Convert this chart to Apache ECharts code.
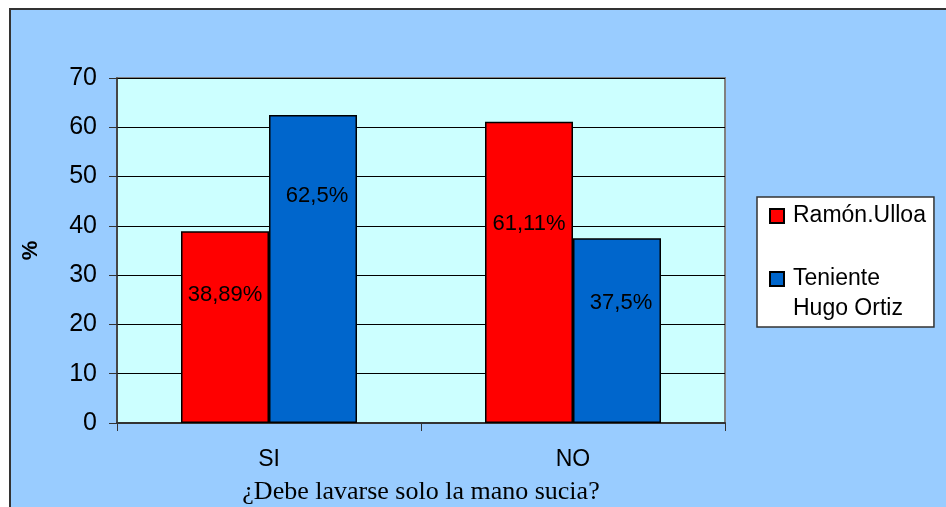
<!DOCTYPE html>
<html>
<head>
<meta charset="utf-8">
<script src="https://cdn.jsdelivr.net/npm/echarts@6/dist/echarts.min.js"></script>
<style>
  html, body { margin: 0; padding: 0; background: #fff; }
  #frame {
    position: absolute; left: 9px; top: 8px; right: 0; bottom: 0;
    background: #99ccff;
    border-left: 2px solid #333; border-top: 2px solid #333;
  }
  #chart { position: absolute; left: 0; top: 0; width: 946px; height: 507px; }
</style>
</head>
<body>
<div id="frame"></div>
<div id="chart"></div>
<script>
// categorias y valores (%)
var categories = ["SI", "NO"];
var seriesNames = ["Ramón.Ulloa", "Teniente\nHugo Ortiz"];
var ramonValues = [38.89, 61.11];
var tenienteValues = [62.5, 37.5];
var yTicks = { min: 0, max: 70, interval: 10 };

// posicion de las etiquetas (solo estilo)
var ramonLabelOffsets = [[0, -32], [0, -48]];
var tenienteLabelOffsets = [[4, -73], [4, -28]];

var sans = "Liberation Sans, Arial, sans-serif";

function pct(v) {
  return String(v).replace(".", ",") + "%";
}

function buildData(values, offsets) {
  return values.map(function (v, i) {
    return { value: v, label: { offset: offsets[i] } };
  });
}

var chart = echarts.init(document.getElementById("chart"), null, { renderer: "canvas" });

var option = {
  animation: false,
  backgroundColor: "transparent",
  textStyle: { fontFamily: sans },
  grid: {
    left: 117, top: 78, right: 221, bottom: 84,
    outerBoundsMode: "none",
    containLabel: false,
    show: true,
    backgroundColor: "#ccffff",
    borderColor: "#808080",
    borderWidth: 2
  },
  legend: {
    orient: "vertical",
    left: 757, top: 197,
    padding: [4, 8, 3, 12],
    itemWidth: 14, itemHeight: 14,
    itemGap: 3,
    icon: "rect",
    backgroundColor: "#fff",
    borderColor: "#333",
    borderWidth: 1.5,
    // el icono va alineado con la primera linea del texto
    formatter: function (name) {
      var lines = name.split("\n");
      if (lines.length === 1) return name;
      return "{e| }\n" + lines.map(function (l) { return "{a|" + l + "}"; }).join("\n");
    },
    textStyle: {
      fontSize: 23, lineHeight: 30, color: "#000", fontFamily: sans,
      padding: [0, 0, 0, 4],
      rich: {
        a: { fontSize: 23, lineHeight: 30, color: "#000", fontFamily: sans },
        e: { fontSize: 23, lineHeight: 30 }
      }
    },
    data: seriesNames
  },
  xAxis: {
    type: "category",
    data: categories,
    axisLine: { lineStyle: { color: "#333", width: 2 } },
    axisTick: { show: true, length: 8, lineStyle: { color: "#333" } },
    axisLabel: { fontSize: 23, color: "#000", margin: 25, fontFamily: sans },
    name: "¿Debe lavarse solo la mano sucia?",
    nameLocation: "middle",
    nameGap: 56,
    nameTextStyle: { fontFamily: "Liberation Serif, Times New Roman, serif", fontSize: 26, color: "#000" }
  },
  yAxis: {
    type: "value",
    min: yTicks.min, max: yTicks.max, interval: yTicks.interval,
    axisLine: { show: true, lineStyle: { color: "#333", width: 1.5 } },
    axisTick: { show: true, length: 8, lineStyle: { color: "#333" } },
    axisLabel: { fontSize: 25, color: "#000", margin: 20, fontFamily: sans },
    splitLine: { lineStyle: { color: "#000", width: 1 } },
    name: "%",
    nameLocation: "middle",
    nameRotate: 90,
    nameGap: 75,
    nameTextStyle: { fontSize: 22, fontWeight: "bold", color: "#000", fontFamily: sans }
  },
  series: [
    {
      name: seriesNames[0],
      type: "bar",
      barWidth: 88,
      barGap: "0%",
      data: buildData(ramonValues, ramonLabelOffsets),
      itemStyle: { color: "#ff0000", borderColor: "#000", borderWidth: 1.5 },
      label: { show: true, position: "inside", fontSize: 22, color: "#000", formatter: function (p) { return pct(p.value); } }
    },
    {
      name: seriesNames[1],
      type: "bar",
      barWidth: 88,
      barGap: "0%",
      data: buildData(tenienteValues, tenienteLabelOffsets),
      itemStyle: { color: "#0066cc", borderColor: "#000", borderWidth: 1.5 },
      label: { show: true, position: "inside", fontSize: 22, color: "#000", formatter: function (p) { return pct(p.value); } }
    }
  ]
};

chart.setOption(option);
</script>
</body>
</html>
